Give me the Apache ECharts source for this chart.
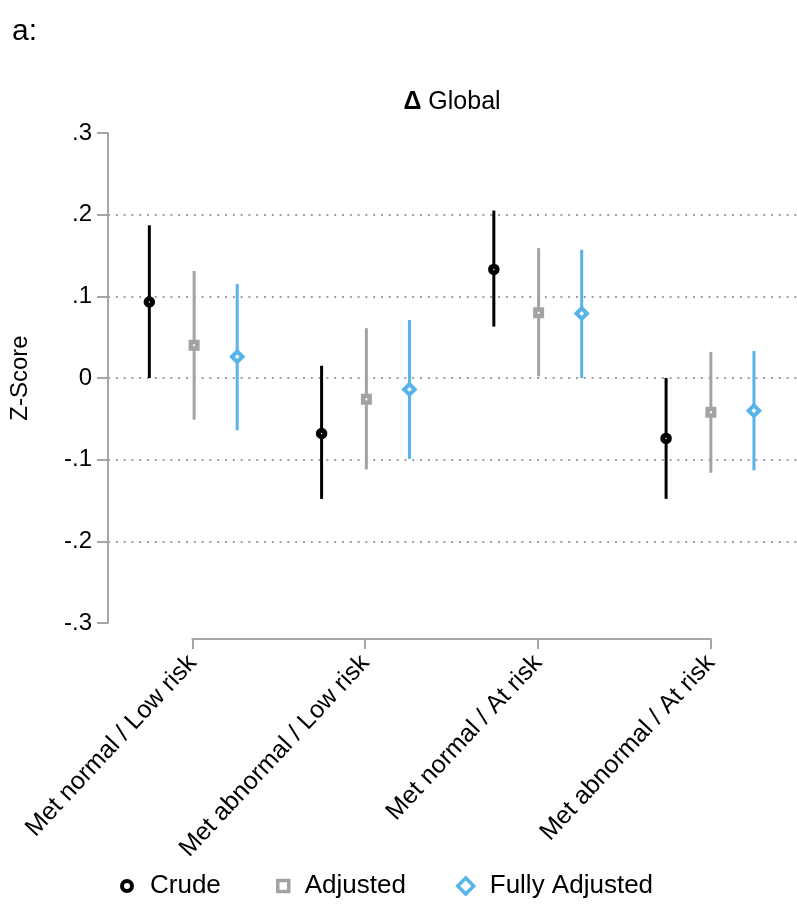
<!DOCTYPE html>
<html>
<head>
<meta charset="utf-8">
<script src="https://cdn.jsdelivr.net/npm/echarts@6/dist/echarts.min.js"></script>
<style>
html,body{margin:0;padding:0;background:#fff;}
#chart{width:797px;height:906px;}
</style>
</head>
<body>
<div id="chart"></div>
<script>
// ---- data ----
const categories = ['Met normal / Low risk', 'Met abnormal / Low risk', 'Met normal / At risk', 'Met abnormal / At risk'];
const seriesNames = ['Crude', 'Adjusted', 'Fully Adjusted'];

const crude     = [0.093, -0.068, 0.133, -0.074];
const crudeLow  = [0.000, -0.148, 0.063, -0.148];
const crudeHigh = [0.187,  0.015, 0.205,  0.000];

const adjusted     = [0.040, -0.026, 0.080, -0.042];
const adjustedLow  = [-0.051, -0.112, 0.002, -0.116];
const adjustedHigh = [0.131,  0.061, 0.159,  0.032];

const fully     = [0.026, -0.014, 0.079, -0.040];
const fullyLow  = [-0.064, -0.099, 0.000, -0.113];
const fullyHigh = [0.115,  0.071, 0.157,  0.033];

const yTicks = [-0.3, -0.2, -0.1, 0, 0.1, 0.2, 0.3];

// ---- styling ----
const FONT = 'Liberation Sans, Arial, sans-serif';
const AXIS_GREY = '#a6a6a6';
const colors = ['#000000', '#a3a3a3', '#56b4e9'];
const symbols = ['circle', 'rect', 'diamond'];
const symbolSizes = [6.5, 6.5, 10.5];
const borderWidths = [5, 4.5, 4];
const offsets = [-0.26, 0, 0.25];

const groups = [
  {name: seriesNames[0], est: crude, lo: crudeLow, hi: crudeHigh},
  {name: seriesNames[1], est: adjusted, lo: adjustedLow, hi: adjustedHigh},
  {name: seriesNames[2], est: fully, lo: fullyLow, hi: fullyHigh}
];

const series = [];
groups.forEach((g, k) => {
  series.push({
    name: g.name + ' CI',
    type: 'custom',
    xAxisIndex: 0, yAxisIndex: 0,
    silent: true,
    z: 2,
    data: categories.map((c, i) => [i + 1 + offsets[k], g.lo[i], g.hi[i]]),
    encode: {x: 0, y: [1, 2]},
    renderItem: function (params, api) {
      const p1 = api.coord([api.value(0), api.value(1)]);
      const p2 = api.coord([api.value(0), api.value(2)]);
      return {
        type: 'line',
        shape: {x1: p1[0], y1: p1[1], x2: p2[0], y2: p2[1]},
        style: {stroke: colors[k], lineWidth: 3, lineCap: 'butt'}
      };
    }
  });
});
groups.forEach((g, k) => {
  series.push({
    name: g.name,
    type: 'scatter',
    xAxisIndex: 0, yAxisIndex: 0,
    z: 5,
    symbol: symbols[k],
    symbolSize: symbolSizes[k],
    itemStyle: {color: '#ffffff', borderColor: colors[k], borderWidth: borderWidths[k], opacity: 1},
    data: categories.map((c, i) => [i + 1 + offsets[k], g.est[i]])
  });
});

function fmtY(v) {
  const r = Math.round(v * 10) / 10;
  if (r === 0) return '0';
  const s = Math.abs(r).toFixed(1).replace(/^0/, '');
  return (r < 0 ? '-' : '') + s;
}

// legend layout (icon left edge, icon size, text padding)
const legendLefts = [115, 271, 451];
const legendIcon = [10, 11, 16];
const legendIconBorder = [4, 3.5, 3.5];
const legendTextPad = [13, 11, 11];
const legends = seriesNames.map((n, k) => ({
  data: [n],
  left: legendLefts[k],
  top: 868,
  orient: 'horizontal',
  itemWidth: legendIcon[k],
  itemHeight: legendIcon[k],
  selectedMode: false,
  textStyle: {fontSize: 26, color: '#000', fontFamily: FONT, padding: [0, 0, 0, legendTextPad[k]]},
  itemStyle: {borderWidth: legendIconBorder[k], borderColor: colors[k], color: '#fff'}
}));

const option = {
  animation: false,
  backgroundColor: '#ffffff',
  textStyle: {fontFamily: FONT},
  title: [
    {
      text: '{d|Δ} Global',
      left: 447, textAlign: 'center', top: 85,
      textStyle: {fontSize: 25, fontWeight: 'normal', color: '#000', fontFamily: FONT,
        rich: {d: {fontSize: 25, fontWeight: 'bold', color: '#000', fontFamily: FONT}}}
    },
    {
      text: 'a:', left: 7, top: 12,
      textStyle: {fontSize: 30, fontWeight: 'normal', color: '#000', fontFamily: FONT}
    }
  ],
  legend: legends,
  grid: [
    {left: 106, right: 0, top: 133, height: 490, containLabel: false},
    {left: 192.4, width: 518.25, top: 638, height: 1, containLabel: false}
  ],
  xAxis: [
    {gridIndex: 0, type: 'value', min: 0.5, max: 4.5, show: false},
    {
      gridIndex: 1, type: 'category', data: categories, boundaryGap: false,
      position: 'bottom',
      axisLine: {show: true, lineStyle: {color: AXIS_GREY, width: 2}},
      axisTick: {show: true, length: 10, alignWithLabel: true, lineStyle: {color: AXIS_GREY, width: 2}},
      axisLabel: {rotate: 47, fontSize: 25, color: '#000', margin: 20, fontFamily: FONT, interval: 0},
      splitLine: {show: false}
    }
  ],
  yAxis: [
    {
      gridIndex: 0, type: 'value', min: -0.3, max: 0.3, interval: 0.1,
      name: 'Z-Score', nameLocation: 'middle', nameGap: 76,
      nameTextStyle: {fontSize: 24, color: '#000', fontFamily: FONT},
      axisLine: {show: true, lineStyle: {color: AXIS_GREY, width: 2}},
      axisTick: {show: true, length: 11, lineStyle: {color: AXIS_GREY, width: 2}},
      axisLabel: {fontSize: 24, color: '#000', margin: 16, fontFamily: FONT, formatter: fmtY,
        customValues: yTicks},
      splitLine: {show: true, showMinLine: false, showMaxLine: false,
        lineStyle: {color: '#a0a0a0', width: 2, type: [2, 5.8]}}
    },
    {gridIndex: 1, type: 'value', show: false}
  ],
  series: series
};

const chart = echarts.init(document.getElementById('chart'), null, {renderer: 'canvas'});
chart.setOption(option);
</script>
</body>
</html>
